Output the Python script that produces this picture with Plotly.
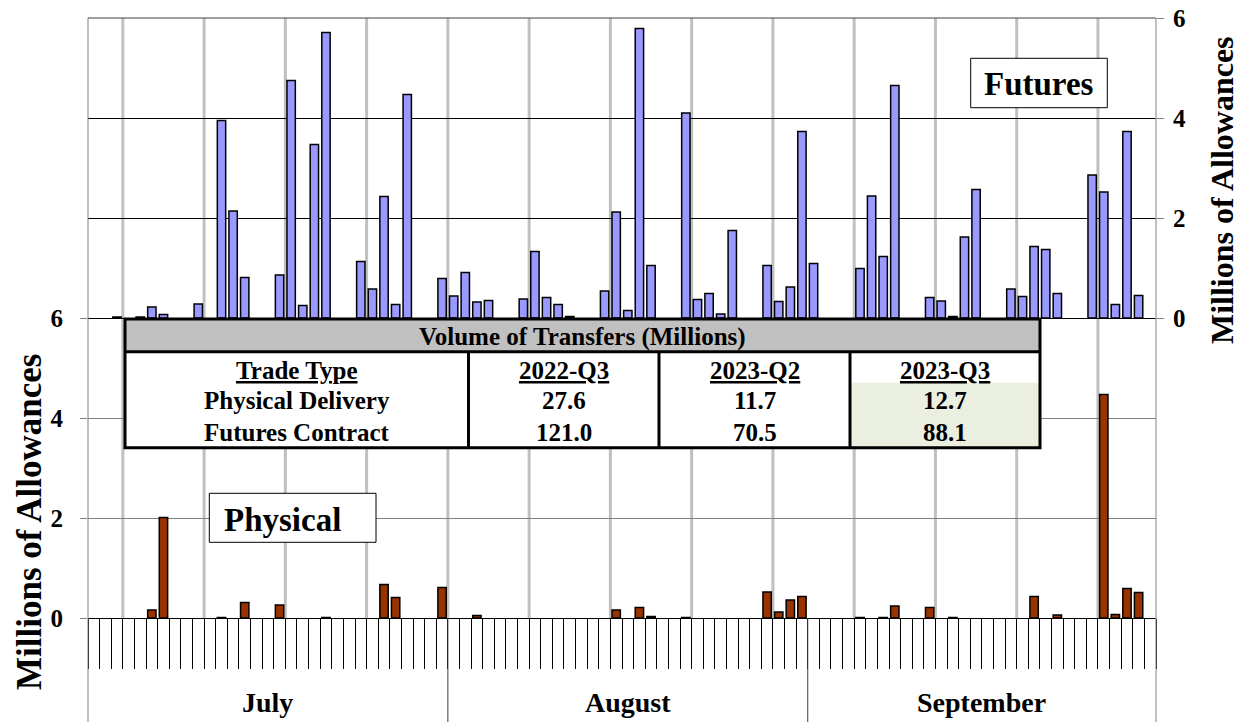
import pandas as pd
import plotly.graph_objects as go

# daily volumes, millions of allowances (Q3 2023)
futures_dates = [
    "2023-07-03", "2023-07-05", "2023-07-06", "2023-07-07", "2023-07-10", "2023-07-12",
    "2023-07-13", "2023-07-14", "2023-07-17", "2023-07-18", "2023-07-19", "2023-07-20",
    "2023-07-21", "2023-07-24", "2023-07-25", "2023-07-26", "2023-07-27", "2023-07-28",
    "2023-07-31", "2023-08-01", "2023-08-02", "2023-08-03", "2023-08-04", "2023-08-07",
    "2023-08-08", "2023-08-09", "2023-08-10", "2023-08-11", "2023-08-14", "2023-08-15",
    "2023-08-16", "2023-08-17", "2023-08-18", "2023-08-21", "2023-08-22", "2023-08-23",
    "2023-08-24", "2023-08-25", "2023-08-28", "2023-08-29", "2023-08-30", "2023-08-31",
    "2023-09-01", "2023-09-05", "2023-09-06", "2023-09-07", "2023-09-08", "2023-09-11",
    "2023-09-12", "2023-09-13", "2023-09-14", "2023-09-15", "2023-09-18", "2023-09-19",
    "2023-09-20", "2023-09-21", "2023-09-22", "2023-09-25", "2023-09-26", "2023-09-27",
    "2023-09-28", "2023-09-29",
]
futures_vals = [
    0.02, 0.02, 0.22, 0.07, 0.28, 3.95,
    2.14, 0.81, 0.86, 4.75, 0.25, 3.47,
    5.71, 1.13, 0.58, 2.43, 0.27, 4.47,
    0.79, 0.44, 0.91, 0.32, 0.35, 0.38,
    1.33, 0.41, 0.27, 0.03, 0.54, 2.12,
    0.15, 5.79, 1.05, 4.10, 0.37, 0.49,
    0.08, 1.75, 1.05, 0.33, 0.62, 3.73,
    1.09, 0.99, 2.44, 1.23, 4.65, 0.41,
    0.34, 0.03, 1.62, 2.57, 0.58, 0.43,
    1.43, 1.37, 0.49, 2.86, 2.52, 0.27,
    3.73, 0.45,
]

physical_dates = [
    "2023-07-06", "2023-07-07", "2023-07-12", "2023-07-14", "2023-07-17", "2023-07-21",
    "2023-07-26", "2023-07-27", "2023-07-31", "2023-08-03", "2023-08-15", "2023-08-17",
    "2023-08-18", "2023-08-21", "2023-08-28", "2023-08-29", "2023-08-30", "2023-08-31",
    "2023-09-05", "2023-09-07", "2023-09-08", "2023-09-11", "2023-09-13", "2023-09-20",
    "2023-09-22", "2023-09-26", "2023-09-27", "2023-09-28", "2023-09-29",
]
physical_vals = [
    0.16, 2.01, 0.01, 0.31, 0.26, 0.01,
    0.67, 0.41, 0.61, 0.05, 0.16, 0.21,
    0.03, 0.01, 0.52, 0.12, 0.36, 0.43,
    0.01, 0.01, 0.24, 0.21, 0.01, 0.43,
    0.06, 4.47, 0.07, 0.59, 0.51,
]

months = ["July", "August", "September"]
month_mid = ["2023-07-16", "2023-08-16", "2023-09-15 12:00"]
month_ends = ["2023-07-31 12:00", "2023-08-31 12:00"]

table_title = "Volume of Transfers (Millions)"
table_cols = ["Trade Type", "2022-Q3", "2023-Q2", "2023-Q3"]
trade_types = ["Physical Delivery", "Futures Contract"]
vol_2022q3 = ["27.6", "121.0"]
vol_2023q2 = ["11.7", "70.5"]
vol_2023q3 = ["12.7", "88.1"]

y_ticks = [0, 2, 4, 6]

# page is 1242x722, the html body adds an 8px offset
OFF = 8
W, H = 1242 - OFF, 722 - OFF
ML, MR, MT, MB = 88 - OFF, 86, 18 - OFF, 0
PW, PH = W - ML - MR, H - MT - MB
FONT = "Liberation Serif, Times New Roman, serif"


def px(x):  # page pixel -> paper x
    return (x - OFF - ML) / PW


def py(y):  # page pixel -> paper y
    return (H - MB - (y - OFF)) / PH


day_ms = 86400000
fig = go.Figure()
fig.add_trace(go.Bar(
    x=futures_dates, y=futures_vals, yaxis="y2", width=0.72 * day_ms,
    marker=dict(color="#9999ff", line=dict(color="black", width=1.5)),
    name="Futures",
))
fig.add_trace(go.Bar(
    x=physical_dates, y=physical_vals, yaxis="y", width=0.72 * day_ms,
    marker=dict(color="#993300", line=dict(color="black", width=1.5)),
    name="Physical",
))

tickfont = dict(family=FONT, size=25, color="black", weight="bold")
fig.update_layout(
    width=W, height=H,
    margin=dict(l=ML, r=MR, t=MT, b=MB, autoexpand=False),
    paper_bgcolor="white", plot_bgcolor="white",
    barmode="overlay", showlegend=False,
    xaxis=dict(
        type="date", range=["2023-06-30 12:00", "2023-09-30 12:00"], automargin=False,
        tickvals=pd.date_range("2023-06-30 12:00", "2023-09-30 12:00", freq="D"),
        showticklabels=False, ticks="outside", ticklen=50, tickwidth=1, tickcolor="black",
        showgrid=False, zeroline=False, showline=True, linecolor="black", linewidth=1,
    ),
    yaxis=dict(
        domain=[py(618), py(318)], range=[0, 6], tickvals=y_ticks, automargin=False,
        ticks="outside", ticklen=7, tickcolor="#808080", ticklabelstandoff=12,
        ticklabeloverflow="allow",
        showgrid=True, gridcolor="#808080", gridwidth=1, zeroline=False,
        tickfont=tickfont,
    ),
    yaxis2=dict(
        domain=[py(318), 1], range=[0, 6], tickvals=y_ticks, side="right", anchor="x",
        automargin=False, ticklabeloverflow="allow",
        ticks="outside", ticklen=7, tickcolor="#808080", ticklabelstandoff=4,
        showgrid=True, gridcolor="black", gridwidth=1,
        zeroline=True, zerolinecolor="black", zerolinewidth=1,
        tickfont=tickfont,
    ),
)

shapes = []
# weekly grey lines
for d in pd.date_range("2023-07-03 12:00", periods=13, freq="7D"):
    shapes.append(dict(type="line", xref="x", yref="paper", x0=d, x1=d, y0=py(618), y1=1,
                       line=dict(color="#c0c0c0", width=3), layer="below"))
# month separators in the label band
for d in month_ends:
    shapes.append(dict(type="line", xref="x", yref="paper", x0=d, x1=d, y0=0, y1=py(618),
                       line=dict(color="#404040", width=1)))
# frame
shapes += [
    dict(type="line", xref="paper", yref="paper", x0=0, x1=0, y0=0, y1=1, line=dict(color="#808080", width=1)),
    dict(type="line", xref="paper", yref="paper", x0=1, x1=1, y0=0, y1=1, line=dict(color="#808080", width=1)),
    dict(type="line", xref="paper", yref="paper", x0=0, x1=1, y0=1, y1=1, line=dict(color="#404040", width=1)),
]

# table
tx0, tx1 = px(125), px(1040)
ty_top, ty_head, ty_bot = py(319), py(351.7), py(447.7)
col_x = [125, 468.5, 659, 850, 1040]
shapes += [
    dict(type="rect", xref="paper", yref="paper", x0=tx0, x1=tx1, y0=ty_bot, y1=ty_top,
         fillcolor="white", line=dict(width=0), layer="above"),
    dict(type="rect", xref="paper", yref="paper", x0=tx0, x1=tx1, y0=ty_head, y1=ty_top,
         fillcolor="#c0c0c0", line=dict(width=0), layer="above"),
    dict(type="rect", xref="paper", yref="paper", x0=px(850), x1=tx1, y0=ty_bot, y1=py(382.7),
         fillcolor="#ebefdf", line=dict(width=0), layer="above"),
    dict(type="line", xref="paper", yref="paper", x0=tx0, x1=tx1, y0=ty_head, y1=ty_head,
         line=dict(color="black", width=3), layer="above"),
]
for cx in col_x[1:-1]:
    shapes.append(dict(type="line", xref="paper", yref="paper", x0=px(cx), x1=px(cx), y0=ty_bot, y1=ty_head,
                       line=dict(color="black", width=3), layer="above"))
shapes.append(dict(type="rect", xref="paper", yref="paper", x0=tx0, x1=tx1, y0=ty_bot, y1=ty_top,
                   line=dict(color="black", width=3), layer="above"))

# label boxes
shapes += [
    dict(type="rect", xref="paper", yref="paper", x0=px(970.7), x1=px(1107.3), y0=py(107.7), y1=py(58.3),
         fillcolor="white", line=dict(color="black", width=1), layer="above"),
    dict(type="rect", xref="paper", yref="paper", x0=px(209.3), x1=px(376), y0=py(542.3), y1=py(493.3),
         fillcolor="white", line=dict(color="black", width=1), layer="above"),
]
fig.update_layout(shapes=shapes)

ann = []


def text(x, y, s, size, xanchor="center", angle=0, xref="paper"):
    ann.append(dict(x=x, y=y, xref=xref, yref="paper", text=s, showarrow=False,
                    xanchor=xanchor, yanchor="middle", textangle=angle,
                    font=dict(family=FONT, size=size, color="black", weight="bold")))


text(px(582), py(337), table_title, 25)
col_centers = [(col_x[i] + col_x[i + 1]) / 2 for i in range(4)]
for c, name in zip(col_centers, table_cols):
    text(px(c), py(370), "<u>" + name + "</u>", 25)
rows_y = [401, 432]
for i, ry in enumerate(rows_y):
    text(px(col_centers[0]), py(ry), trade_types[i], 25)
    text(px(col_centers[1]), py(ry), vol_2022q3[i], 25)
    text(px(col_centers[2]), py(ry), vol_2023q2[i], 25)
    text(px(col_centers[3]), py(ry), vol_2023q3[i], 25)

text(px(1039), py(84), "Futures", 33)
text(px(222), py(520), "Physical", 33, xanchor="left")

for m, d in zip(months, month_mid):
    text(d, py(702), m, 28, xref="x")

text(px(29), py(522), "Millions of Allowances", 35, angle=-90)
text(px(1222), py(190), "Millions of Allowances", 32, angle=-90)

fig.update_layout(annotations=ann)

fig.write_html("out.html")
